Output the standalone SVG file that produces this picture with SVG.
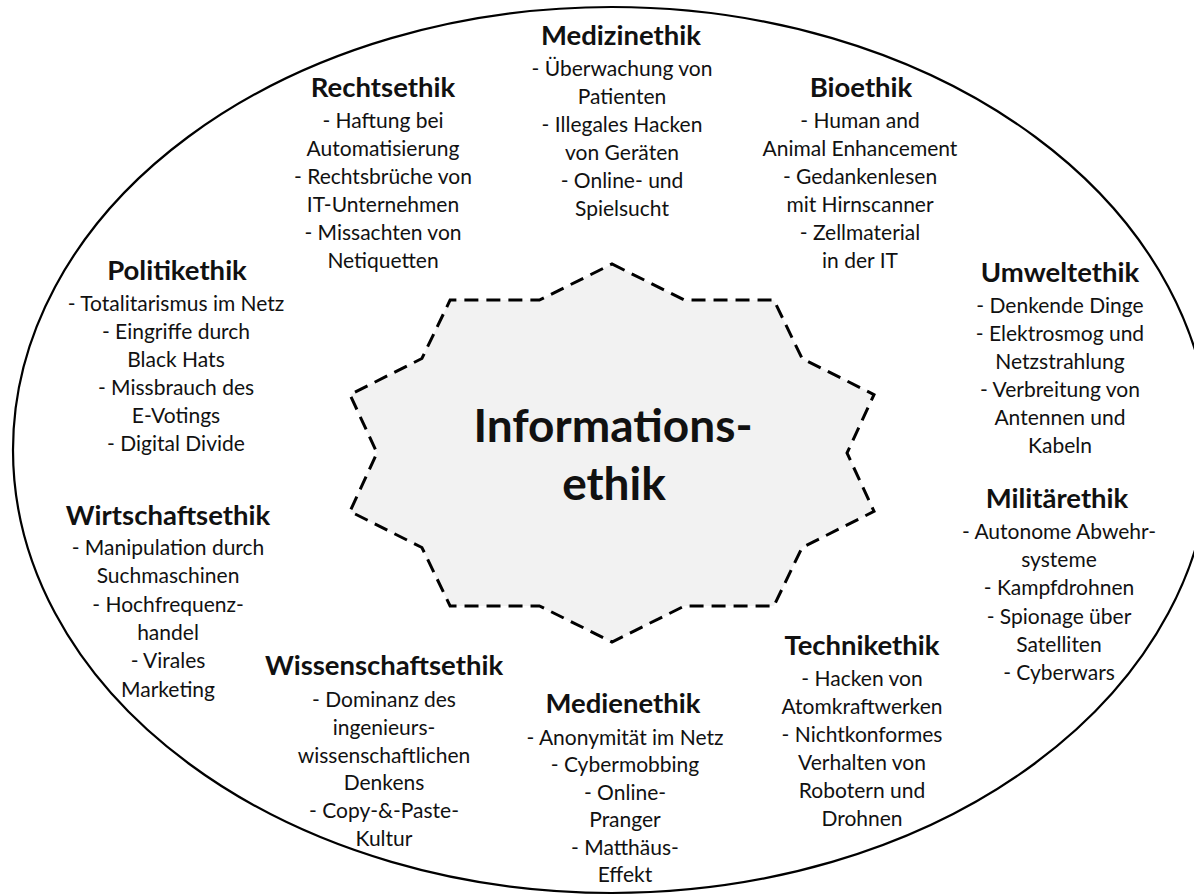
<svg xmlns="http://www.w3.org/2000/svg" width="1194" height="895" viewBox="0 0 1194 895">
<style>
text{font-family:Lato,"Liberation Sans",sans-serif;fill:#111;text-anchor:middle}
.h{font-weight:bold;font-size:27.5px}
.b{font-size:21px}
.c{font-weight:bold;font-size:46px}
.ell{fill:#fff;stroke:#000;stroke-width:2.2}
.star{fill:#f2f2f2;stroke:#000;stroke-width:3;stroke-dasharray:14 8}
</style>
<rect width="1194" height="895" fill="#fff"/>
<g id="frame"><ellipse class="ell" cx="611.7" cy="450" rx="598.7" ry="443"/></g>
<g id="center">
<polygon class="star" points="612,264 684.6,300.1 773.9,300.1 802.1,358.5 874,394.6 847,453 874,511.4 802.1,547.5 773.9,605.9 684.6,605.9 612,642 539.4,605.9 450.1,605.9 421.9,547.5 350,511.4 377,453 350,394.6 421.9,358.5 450.1,300.1 539.4,300.1"/>
<text class="c" x="613" y="441.7">Informations-</text>
<text class="c" x="614" y="500">ethik</text>
</g>
<g id="medizinethik">
<text class="h" x="621" y="45">Medizinethik</text>
<text class="b"><tspan x="622" y="76">- Überwachung von</tspan><tspan x="622" y="104">Patienten</tspan><tspan x="622" y="132">- Illegales Hacken</tspan><tspan x="622" y="160">von Geräten</tspan><tspan x="622" y="188">- Online- und</tspan><tspan x="622" y="216">Spielsucht</tspan></text>
</g>
<g id="rechtsethik">
<text class="h" x="383" y="97">Rechtsethik</text>
<text class="b"><tspan x="383" y="128">- Haftung bei</tspan><tspan x="383" y="156">Automatisierung</tspan><tspan x="383" y="184">- Rechtsbrüche von</tspan><tspan x="383" y="212">IT-Unternehmen</tspan><tspan x="383" y="240">- Missachten von</tspan><tspan x="383" y="268">Netiquetten</tspan></text>
</g>
<g id="bioethik">
<text class="h" x="861" y="97">Bioethik</text>
<text class="b"><tspan x="860" y="128">- Human and</tspan><tspan x="860" y="156">Animal Enhancement</tspan><tspan x="860" y="184">- Gedankenlesen</tspan><tspan x="860" y="212">mit Hirnscanner</tspan><tspan x="860" y="240">- Zellmaterial</tspan><tspan x="860" y="268">in der IT</tspan></text>
</g>
<g id="politikethik">
<text class="h" x="177" y="280">Politikethik</text>
<text class="b"><tspan x="176" y="311">- Totalitarismus im Netz</tspan><tspan x="176" y="339">- Eingriffe durch</tspan><tspan x="176" y="367">Black Hats</tspan><tspan x="176" y="395">- Missbrauch des</tspan><tspan x="176" y="423">E-Votings</tspan><tspan x="176" y="451">- Digital Divide</tspan></text>
</g>
<g id="umweltethik">
<text class="h" x="1060" y="282">Umweltethik</text>
<text class="b"><tspan x="1060" y="313">- Denkende Dinge</tspan><tspan x="1060" y="341">- Elektrosmog und</tspan><tspan x="1060" y="369">Netzstrahlung</tspan><tspan x="1060" y="397">- Verbreitung von</tspan><tspan x="1060" y="425">Antennen und</tspan><tspan x="1060" y="453">Kabeln</tspan></text>
</g>
<g id="wirtschaftsethik">
<text class="h" x="168" y="525">Wirtschaftsethik</text>
<text class="b"><tspan x="168" y="555">- Manipulation durch</tspan><tspan x="168" y="583.3">Suchmaschinen</tspan><tspan x="168" y="611.6">- Hochfrequenz-</tspan><tspan x="168" y="640">handel</tspan><tspan x="168" y="668.3">- Virales</tspan><tspan x="168" y="696.6">Marketing</tspan></text>
</g>
<g id="militaerethik">
<text class="h" x="1057" y="508">Militärethik</text>
<text class="b"><tspan x="1059" y="539">- Autonome Abwehr-</tspan><tspan x="1059" y="567.2">systeme</tspan><tspan x="1059" y="595.4">- Kampfdrohnen</tspan><tspan x="1059" y="623.6">- Spionage über</tspan><tspan x="1059" y="651.8">Satelliten</tspan><tspan x="1059" y="680">- Cyberwars</tspan></text>
</g>
<g id="wissenschaftsethik">
<text class="h" x="384" y="675">Wissenschaftsethik</text>
<text class="b"><tspan x="384" y="707">- Dominanz des</tspan><tspan x="384" y="734.8">ingenieurs-</tspan><tspan x="384" y="762.6">wissenschaftlichen</tspan><tspan x="384" y="790.4">Denkens</tspan><tspan x="384" y="818.2">- Copy-&amp;-Paste-</tspan><tspan x="384" y="846">Kultur</tspan></text>
</g>
<g id="medienethik">
<text class="h" x="623" y="713">Medienethik</text>
<text class="b"><tspan x="625" y="745">- Anonymität im Netz</tspan><tspan x="625" y="772.4">- Cybermobbing</tspan><tspan x="625" y="799.8">- Online-</tspan><tspan x="625" y="827.2">Pranger</tspan><tspan x="625" y="854.6">- Matthäus-</tspan><tspan x="625" y="882">Effekt</tspan></text>
</g>
<g id="technikethik">
<text class="h" x="862" y="655">Technikethik</text>
<text class="b"><tspan x="862" y="686">- Hacken von</tspan><tspan x="862" y="714">Atomkraftwerken</tspan><tspan x="862" y="742">- Nichtkonformes</tspan><tspan x="862" y="770">Verhalten von</tspan><tspan x="862" y="798">Robotern und</tspan><tspan x="862" y="826">Drohnen</tspan></text>
</g>
<g id="connectors"></g>
</svg>
